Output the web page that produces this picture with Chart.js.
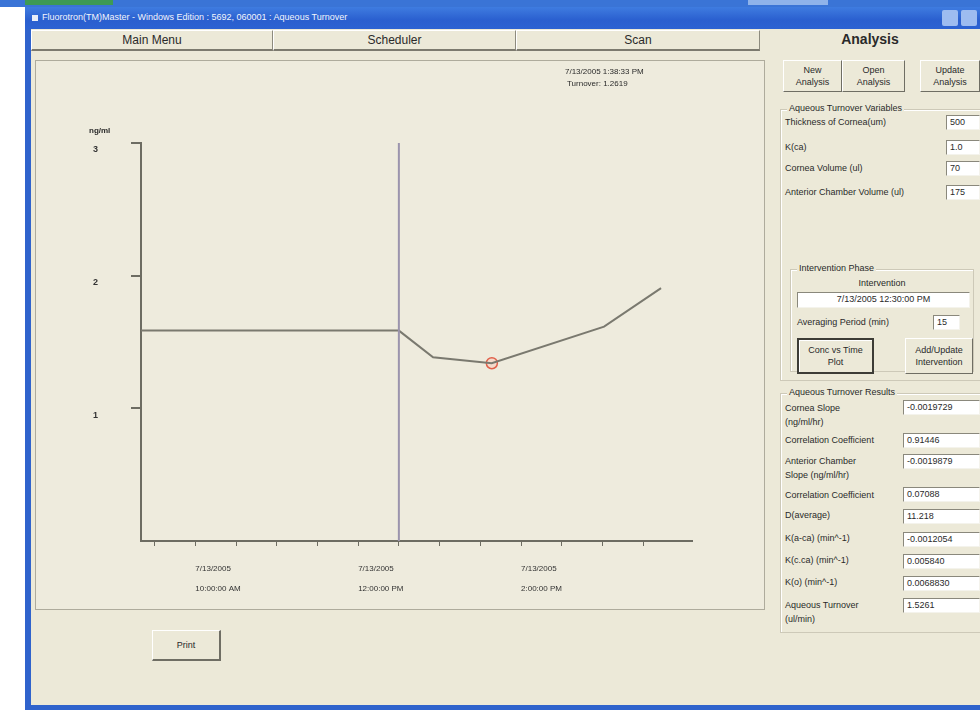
<!DOCTYPE html>
<html>
<head>
<meta charset="utf-8">
<script src="https://cdn.jsdelivr.net/npm/chart.js@4.4.1/dist/chart.umd.min.js"></script>
<style>
  body { margin: 0; width: 980px; height: 710px; overflow: hidden; background: #fff; position: relative;
         font-family: "Liberation Sans", Arial, sans-serif; color: #2a2a2a; }
  .a { position: absolute; }
  .lbl { position: absolute; font-size: 9px; white-space: nowrap; line-height: 14px; }
  .tb { position: absolute; background: #fff; border: 1px solid; border-color: #8a887c #f4f3ec #f4f3ec #8a887c;
        font-size: 9px; padding-left: 3px; box-sizing: border-box; line-height: 13px; white-space: nowrap; }
  .btn { position: absolute; background: #ece9d8; border: 1px solid; border-color: #fff #6f6e64 #6f6e64 #fff;
         box-sizing: border-box; font-size: 9px; display: flex; align-items: center; justify-content: center;
         text-align: center; line-height: 12px; }
  .grp { position: absolute; border: 1px solid #cdc9b8; box-shadow: inset 1px 1px 0 #fff; box-sizing: border-box; }
  .grp span { position: absolute; left: 6px; top: -7px; background: #ece9d8; font-size: 9px; padding: 0 2px; white-space: nowrap; }
  .tab { position: absolute; top: 30px; height: 21px; background: #ece9d8; box-sizing: border-box;
         border-top: 1px solid #fff; border-left: 1px solid #fff; border-right: 1px solid #8d8b7e; border-bottom: 2px solid #7c7a6e;
         font-size: 12px; text-align: center; line-height: 18px; }
</style>
</head>
<body>
<!-- screen / window chrome -->
<div class="a" style="left:0;top:0;width:980px;height:7px;background:#3a74d6"></div>
<div class="a" style="left:25px;top:0;width:88px;height:5px;background:#3d9a55"></div>
<div class="a" style="left:748px;top:0;width:80px;height:5px;background:#8fb3ea"></div>
<div class="a" style="left:25px;top:7px;width:955px;height:703px;background:#2f63cc"></div>
<div class="a" style="left:25px;top:7px;width:955px;height:22px;background:linear-gradient(#3f7ce0,#2a5fcf 60%,#2c62d2)"></div>
<div class="a" style="left:32px;top:15px;width:6px;height:6px;background:#e9eef8"></div>
<div class="a" style="left:42px;top:12px;font-size:9px;color:#f2f5fc;white-space:nowrap">Fluorotron(TM)Master - Windows Edition : 5692, 060001 : Aqueous Turnover</div>
<div class="a" style="left:942px;top:10px;width:16px;height:16px;background:#9dbcf0;border-radius:2px"></div>
<div class="a" style="left:961px;top:10px;width:16px;height:16px;background:#9dbcf0;border-radius:2px"></div>
<div class="a" style="left:31px;top:29px;width:949px;height:676px;background:#ece9d8"></div>

<!-- tabs -->
<div class="tab" style="left:31px;width:242px">Main Menu</div>
<div class="tab" style="left:273px;width:243px">Scheduler</div>
<div class="tab" style="left:516px;width:244px">Scan</div>
<div class="a" style="left:760px;top:31px;width:220px;text-align:center;font-size:14px;font-weight:bold">Analysis</div>

<!-- chart panel -->
<div class="a" style="left:35px;top:60px;width:730px;height:550px;box-sizing:border-box;border:1px solid #aeab9c;background:#eeebdd"></div>
<div class="a" style="left:36px;top:61px;width:728px;height:548px"><canvas id="grafico" width="728" height="548"></canvas></div>
<div class="lbl" style="left:565px;top:65px;font-size:8px">7/13/2005 1:38:33 PM</div>
<div class="lbl" style="left:567px;top:77px;font-size:8px">Turnover: 1.2619</div>
<div class="lbl" style="left:89px;top:124px;font-size:8px;font-weight:bold">ng/ml</div>

<div class="btn" style="left:152px;top:630px;width:69px;height:31px;border-right:2px solid #6f6e64;border-bottom:2px solid #6f6e64">Print</div>

<!-- right side -->
<div class="btn" style="left:783px;top:60px;width:59px;height:32px">New<br>Analysis</div>
<div class="btn" style="left:842px;top:60px;width:63px;height:32px">Open<br>Analysis</div>
<div class="btn" style="left:920px;top:60px;width:60px;height:32px">Update<br>Analysis</div>

<div class="grp" style="left:780px;top:109px;width:205px;height:272px"><span>Aqueous Turnover Variables</span></div>
<div class="lbl" style="left:785px;top:115px">Thickness of Cornea(um)</div>
<div class="tb" style="left:946px;top:115px;width:34px;height:15px">500</div>
<div class="lbl" style="left:785px;top:140px">K(ca)</div>
<div class="tb" style="left:946px;top:140px;width:34px;height:15px">1.0</div>
<div class="lbl" style="left:785px;top:161px">Cornea Volume (ul)</div>
<div class="tb" style="left:946px;top:161px;width:34px;height:15px">70</div>
<div class="lbl" style="left:785px;top:185px">Anterior Chamber Volume (ul)</div>
<div class="tb" style="left:946px;top:185px;width:34px;height:15px">175</div>

<div class="grp" style="left:790px;top:269px;width:184px;height:103px"><span>Intervention Phase</span></div>
<div class="lbl" style="left:790px;top:276px;width:184px;text-align:center">Intervention</div>
<div class="tb" style="left:797px;top:292px;width:173px;height:16px;text-align:center;padding:0">7/13/2005 12:30:00 PM</div>
<div class="lbl" style="left:797px;top:315px">Averaging Period (min)</div>
<div class="tb" style="left:933px;top:315px;width:27px;height:15px">15</div>
<div class="btn" style="left:797px;top:338px;width:77px;height:36px;border:2px solid #3d3c36;box-shadow:inset 1px 1px 0 #fff">Conc vs Time<br>Plot</div>
<div class="btn" style="left:905px;top:338px;width:68px;height:36px">Add/Update<br>Intervention</div>

<div class="grp" style="left:780px;top:393px;width:205px;height:240px"><span>Aqueous Turnover Results</span></div>
<div class="lbl" style="left:785px;top:401px">Cornea Slope<br>(ng/ml/hr)</div>
<div class="tb" style="left:903px;top:400px;width:77px;height:15px">-0.0019729</div>
<div class="lbl" style="left:785px;top:433px">Correlation Coefficient</div>
<div class="tb" style="left:903px;top:433px;width:77px;height:15px">0.91446</div>
<div class="lbl" style="left:785px;top:454px">Anterior Chamber<br>Slope (ng/ml/hr)</div>
<div class="tb" style="left:903px;top:454px;width:77px;height:15px">-0.0019879</div>
<div class="lbl" style="left:785px;top:488px">Correlation Coefficient</div>
<div class="tb" style="left:903px;top:487px;width:77px;height:15px">0.07088</div>
<div class="lbl" style="left:785px;top:508px">D(average)</div>
<div class="tb" style="left:903px;top:509px;width:77px;height:15px">11.218</div>
<div class="lbl" style="left:785px;top:531px">K(a-ca) (min^-1)</div>
<div class="tb" style="left:903px;top:532px;width:77px;height:15px">-0.0012054</div>
<div class="lbl" style="left:785px;top:553px">K(c.ca) (min^-1)</div>
<div class="tb" style="left:903px;top:554px;width:77px;height:15px">0.005840</div>
<div class="lbl" style="left:785px;top:575px">K(o) (min^-1)</div>
<div class="tb" style="left:903px;top:576px;width:77px;height:15px">0.0068830</div>
<div class="lbl" style="left:785px;top:598px">Aqueous Turnover<br>(ul/min)</div>
<div class="tb" style="left:903px;top:598px;width:77px;height:15px">1.5261</div>

<script>
// horas del dia (decimal) y concentracion en ng/ml
const horas = [9.333, 12.5, 12.92, 13.64, 15.02, 15.72];
const concentracion = [1.586, 1.586, 1.385, 1.34, 1.616, 1.906];

const horaActual = [13.642];
const concActual = [1.34];

const horaIntervencion = [12.5, 12.5];
const concIntervencion = [0, 3];

const ticksX = [9.5, 10, 10.5, 11, 11.5, 12, 12.5, 13, 13.5, 14, 14.5, 15, 15.5];
const horasEtiqueta = [10, 12, 14];
const fechasEtiqueta = ["7/13/2005", "7/13/2005", "7/13/2005"];
const textosEtiqueta = ["10:00:00 AM", "12:00:00 PM", "2:00:00 PM"];

const ticksY = [1, 2, 3];

const colorEje = "#6d6c62";
const fuente = "'Liberation Sans', Arial, sans-serif";

function puntos(xs, ys) {
  return xs.map((x, i) => ({ x: x, y: ys[i] }));
}

const ctx = document.getElementById("grafico");
new Chart(ctx, {
  type: "scatter",
  data: {
    datasets: [
      {
        data: puntos(horaIntervencion, concIntervencion),
        showLine: true,
        borderColor: "#9b94ad",
        borderWidth: 2,
        pointRadius: 0
      },
      {
        data: puntos(horas, concentracion),
        showLine: true,
        borderColor: "#7a796f",
        borderWidth: 2,
        pointRadius: 0,
        tension: 0
      },
      {
        data: puntos(horaActual, concActual),
        pointRadius: 5.5,
        pointBorderWidth: 1.5,
        pointBorderColor: "#e0604a",
        pointBackgroundColor: "rgba(250, 200, 185, 0.45)"
      }
    ]
  },
  options: {
    responsive: false,
    animation: false,
    layout: { padding: { left: 0, right: 72, top: 82, bottom: 0 } },
    plugins: { legend: { display: false }, tooltip: { enabled: false } },
    scales: {
      x: {
        type: "linear",
        min: 9.333,
        max: 16.1,
        afterBuildTicks: s => { s.ticks = ticksX.map(v => ({ value: v })); },
        afterFit: s => { s.height = 68; },
        grid: { drawOnChartArea: false, tickLength: 5, color: colorEje, lineWidth: 1 },
        border: { color: colorEje, width: 2 },
        ticks: {
          autoSkip: false,
          maxRotation: 0,
          align: "start",
          padding: 12,
          color: "#333",
          font: { family: fuente, size: 8, lineHeight: 2.6 },
          callback: v => {
            const i = horasEtiqueta.findIndex(h => Math.abs(h - v) < 1e-6);
            return i < 0 ? "" : [fechasEtiqueta[i], textosEtiqueta[i]];
          }
        }
      },
      y: {
        min: 0,
        max: 3,
        afterBuildTicks: s => { s.ticks = ticksY.map(v => ({ value: v })); },
        afterFit: s => { s.width = 105; },
        grid: { drawOnChartArea: false, tickLength: 10, color: colorEje, lineWidth: 2 },
        border: { color: colorEje, width: 2 },
        ticks: {
          padding: 33,
          labelOffset: 7,
          color: "#333",
          font: { family: fuente, size: 9, weight: "bold" }
        }
      }
    }
  }
});
</script>
</body>
</html>
